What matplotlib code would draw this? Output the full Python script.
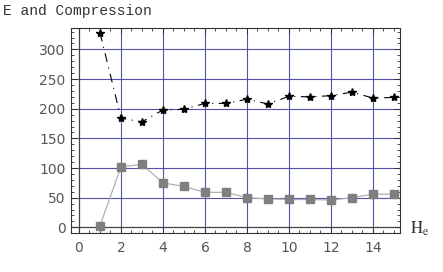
import matplotlib
matplotlib.use("Agg")
import matplotlib.pyplot as plt
from matplotlib.ticker import MultipleLocator

x = [1, 2, 3, 4, 5, 6, 7, 8, 9, 10, 11, 12, 13, 14, 15]
e_vals = [328, 184, 178, 198, 199, 209, 209, 216, 208, 221, 220, 222, 228, 218, 219]
comp_vals = [3, 102, 106, 75, 69, 59, 59, 50, 48, 47, 47, 46, 50, 56, 56]
xticks = [0, 2, 4, 6, 8, 10, 12, 14]
yticks = [0, 50, 100, 150, 200, 250, 300]

plt.rcParams["mathtext.fontset"] = "stix"

fig = plt.figure(figsize=(4.43, 2.72), dpi=100)
ax = fig.add_axes([0.1603, 0.1445, 0.903 - 0.1603, 0.896 - 0.1445])

grid_c = "#5252ac"
for xv in xticks[1:]:
    ax.axvline(xv, color=grid_c, lw=0.8, zorder=1)
for yv in yticks[1:]:
    ax.axhline(yv, color=grid_c, lw=0.8, zorder=1)
ax.axvline(0, color="#444444", lw=0.9, zorder=1)
ax.axhline(0, color="#444444", lw=0.9, zorder=1)

ax.plot(x, comp_vals, color="#b0b0b0", lw=0.9, marker="s", markersize=6,
        markerfacecolor="#7f7f7f", markeredgecolor="#7f7f7f", zorder=3)
ax.plot(x, e_vals, color="black", lw=0.8, linestyle=(0, (8, 5, 1, 5)),
        marker="*", markersize=6, markerfacecolor="black",
        markeredgecolor="black", zorder=4)

ax.set_xlim(-0.38, 15.29)
ax.set_ylim(-9, 335.6)
ax.set_xticks(xticks)
ax.set_yticks(yticks)
ax.xaxis.set_minor_locator(MultipleLocator(0.5))
ax.yaxis.set_minor_locator(MultipleLocator(10))
ax.tick_params(axis="both", which="major", direction="in", length=4, width=0.7,
               colors="#333333", labelcolor="#555555", labelsize=10,
               top=True, right=True)
ax.tick_params(axis="both", which="minor", direction="in", length=2, width=0.6,
               colors="#333333", top=True, right=True)
ax.tick_params(axis="x", pad=6)
ax.tick_params(axis="y", pad=4)
for s in ax.spines.values():
    s.set_color("#333333")
    s.set_linewidth(0.8)

fig.text(3 / 443, 1 - 11 / 272, "E and Compression", family="Liberation Mono",
         fontsize=10.5, color="#333333", va="center", ha="left")
fig.text(410 / 443, 1 - 229 / 272, r"$\mathrm{H_e}$", fontsize=12,
         color="#333333", va="center", ha="left")

fig.savefig("out.png", dpi=100)
